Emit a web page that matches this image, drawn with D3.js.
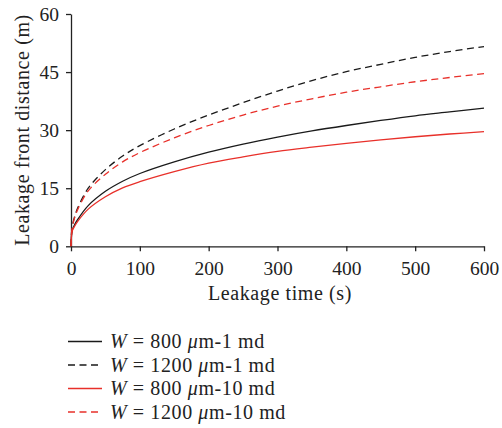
<!DOCTYPE html>
<html><head><meta charset="utf-8">
<script src="https://cdn.jsdelivr.net/npm/d3@7"></script>
<style>body{margin:0;background:#fff;}svg{display:block;}</style>
</head><body>
<svg id="c" width="502" height="428"></svg>
<script>
const times = [0, 1, 2, 5, 10, 25, 50, 75, 100, 150, 200, 250, 300, 350, 400, 450, 500, 550, 600];
const w800_1md   = [0, 3.4, 4.3, 5.5, 7.0, 10.5, 14.2, 16.8, 18.8, 21.8, 24.3, 26.4, 28.2, 29.8, 31.2, 32.5, 33.7, 34.7, 35.7];
const w1200_1md  = [0, 4.0, 5.3, 7.5, 10.0, 15.0, 19.8, 23.3, 26.0, 30.3, 33.9, 37.1, 40.1, 42.8, 45.1, 47.0, 48.8, 50.3, 51.6];
const w800_10md  = [0, 3.2, 4.1, 5.1, 6.5, 9.6, 12.8, 15.1, 16.7, 19.3, 21.5, 23.1, 24.5, 25.6, 26.6, 27.5, 28.3, 29.0, 29.6];
const w1200_10md = [0, 3.9, 5.1, 7.2, 9.6, 14.3, 18.6, 21.8, 24.2, 28.0, 31.2, 33.9, 36.2, 38.1, 39.8, 41.2, 42.5, 43.6, 44.6];
const xTicks = [0, 100, 200, 300, 400, 500, 600];
const yTicks = [0, 15, 30, 45, 60];
const seriesNames = ["800 ", "1200 ", "800 ", "1200 "];
const seriesSuffix = ["m-1 md", "m-1 md", "m-10 md", "m-10 md"];
const seriesColors = ["#1a1a1a", "#1a1a1a", "#e8302a", "#e8302a"];
const seriesDashed = [false, true, false, true];
const seriesValues = [w800_1md, w1200_1md, w800_10md, w1200_10md];

const svg = d3.select("#c");
const font = "'Liberation Serif','DejaVu Serif',serif";
const x = d3.scaleLinear().domain([0, 600]).range([71, 484]);
const y = d3.scaleLinear().domain([0, 60]).range([246.3, 14]);

const xAxis = svg.append("g").attr("transform", "translate(0,246.3)")
  .call(d3.axisBottom(x).tickValues(xTicks).tickSize(5).tickSizeOuter(0).tickPadding(10));
const yAxis = svg.append("g").attr("transform", "translate(71,0)")
  .call(d3.axisLeft(y).tickValues(yTicks).tickSize(5).tickSizeOuter(0).tickPadding(7));
[xAxis, yAxis].forEach(a => {
  a.selectAll("path,line").attr("stroke", "#222").attr("stroke-width", 1.3);
  a.selectAll("text").attr("font-family", font).attr("font-size", 19.5).attr("fill", "#222");
});

const line = d3.line().x(d => x(d[0])).y(d => y(d[1])).curve(d3.curveCatmullRom.alpha(0.5));
seriesValues.forEach((vals, i) => {
  svg.append("path")
    .datum(times.map((t, j) => [t, vals[j]]))
    .attr("d", line)
    .attr("fill", "none")
    .attr("stroke", seriesColors[i])
    .attr("stroke-width", 1.3)
    .attr("stroke-dasharray", seriesDashed[i] ? "7,4.5" : null);
});

const lbl = sel => sel.attr("font-family", font).attr("font-size", 20).attr("letter-spacing", 0.6).attr("fill", "#222");
svg.append("text").attr("x", 280).attr("y", 300).attr("text-anchor", "middle")
  .call(lbl).text("Leakage time (s)");
svg.append("text").attr("transform", "translate(29,130) rotate(-90)").attr("text-anchor", "middle")
  .call(lbl).text("Leakage front distance (m)");

const lg = svg.append("g");
seriesValues.forEach((v, i) => {
  const cy = 341.5 + i * 23.5;
  lg.append("line").attr("x1", 68).attr("x2", 102).attr("y1", cy).attr("y2", cy)
    .attr("stroke", seriesColors[i]).attr("stroke-width", 1.3)
    .attr("stroke-dasharray", seriesDashed[i] ? "7,4.5" : null);
  const t = lg.append("text").attr("x", 110).attr("y", cy + 6.5).call(lbl);
  t.append("tspan").attr("font-style", "italic").text("W");
  t.append("tspan").text(" = " + seriesNames[i]);
  t.append("tspan").attr("font-style", "italic").text("\u03bc");
  t.append("tspan").text(seriesSuffix[i]);
});
</script>
</body></html>
